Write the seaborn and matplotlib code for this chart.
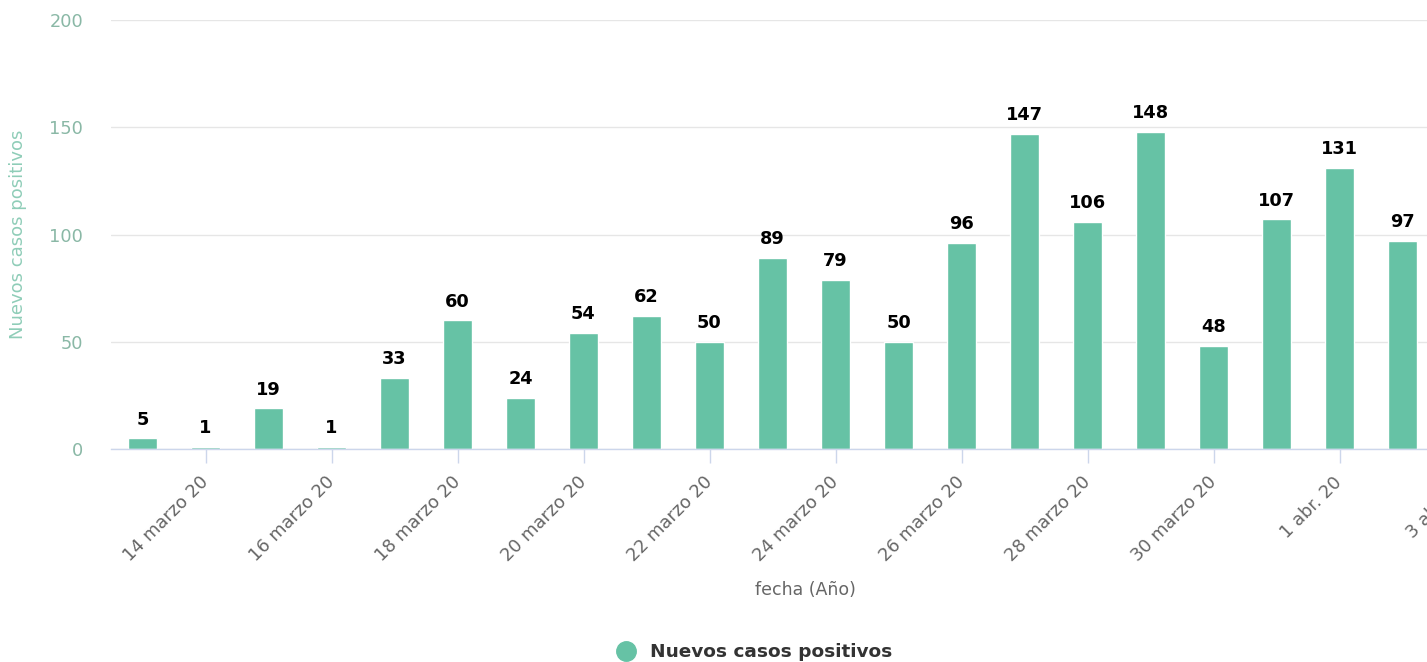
import matplotlib
matplotlib.use("Agg")
import matplotlib.pyplot as plt
import seaborn as sns
import pandas as pd
from matplotlib.lines import Line2D

# ---- data ----
dates = ["13 marzo", "14 marzo", "15 marzo", "16 marzo", "17 marzo", "18 marzo",
         "19 marzo", "20 marzo", "21 marzo", "22 marzo", "23 marzo", "24 marzo",
         "25 marzo", "26 marzo", "27 marzo", "28 marzo", "29 marzo", "30 marzo",
         "31 marzo", "1 abr.", "2 abr."]
values = [5, 1, 19, 1, 33, 60, 24, 54, 62, 50, 89, 79, 50, 96, 147, 106, 148,
          48, 107, 131, 97]
tick_positions = [1, 3, 5, 7, 9, 11, 13, 15, 17, 19, 21]
tick_labels = ["14 marzo 20", "16 marzo 20", "18 marzo 20", "20 marzo 20",
               "22 marzo 20", "24 marzo 20", "26 marzo 20", "28 marzo 20",
               "30 marzo 20", "1 abr. 20", "3 abr. 20"]
series_name = "Nuevos casos positivos"

BAR = "#66c2a5"
W, H = 1427, 662

sns.set_theme(style="white")
plt.rcParams["font.family"] = ["DejaVu Sans"]

fig = plt.figure(figsize=(W / 100, H / 100), dpi=100)
left_px, right_px, top_px, bottom_px = 111, 1497, 20, 449
ax = fig.add_axes([left_px / W, 1 - bottom_px / H,
                   (right_px - left_px) / W, (bottom_px - top_px) / H])

df = pd.DataFrame({"fecha": dates, "casos": values})
sns.barplot(data=df, x="fecha", y="casos", order=dates, color=BAR,
            saturation=1, width=0.475, ax=ax)

ax.set_xlim(-0.5, 21.5)
ax.set_ylim(0, 200)

for i, v in enumerate(values):
    ax.annotate(str(v), (i, v), xytext=(0, 7), textcoords="offset points",
                ha="center", va="bottom", fontsize=12.8, fontweight="bold",
                color="#000000")

# grid
ax.set_yticks([0, 50, 100, 150, 200])
ax.set_yticklabels(["0", "50", "100", "150", "200"])
ax.yaxis.grid(True, color="#e6e6e6", linewidth=1)
ax.set_axisbelow(True)
ax.tick_params(axis="y", length=0, pad=20, labelsize=12.8, labelcolor="#8ab8a6")

ax.set_xticks(tick_positions)
ax.set_xticklabels(tick_labels, rotation=45, ha="right", va="center",
                   rotation_mode="anchor")
ax.tick_params(axis="x", length=10, width=1, color="#ccd6eb", pad=12,
               labelsize=12.8, labelcolor="#666666", bottom=True)

for s in ["top", "right", "left"]:
    ax.spines[s].set_visible(False)
ax.spines["bottom"].set_color("#ccd6eb")
ax.spines["bottom"].set_linewidth(1)

ax.set_xlabel("")
ax.set_ylabel("")
fig.text(805 / W, 1 - 590 / H, "fecha (Año)", ha="center", va="center",
         fontsize=12.5, color="#666666")
fig.text(18 / W, 1 - 234 / H, series_name, rotation=90, ha="center",
         va="center", fontsize=13, color="#8fcdb8")

handle = Line2D([], [], marker="o", linestyle="", markersize=14,
                markerfacecolor=BAR, markeredgecolor=BAR)
fig.legend([handle], [series_name], loc="center", bbox_to_anchor=(750 / W, 1 - 652 / H),
           frameon=False, handletextpad=0.3,
           prop={"weight": "bold", "size": 13.3}, labelcolor="#333333")

fig.savefig("out.png", dpi=100)
